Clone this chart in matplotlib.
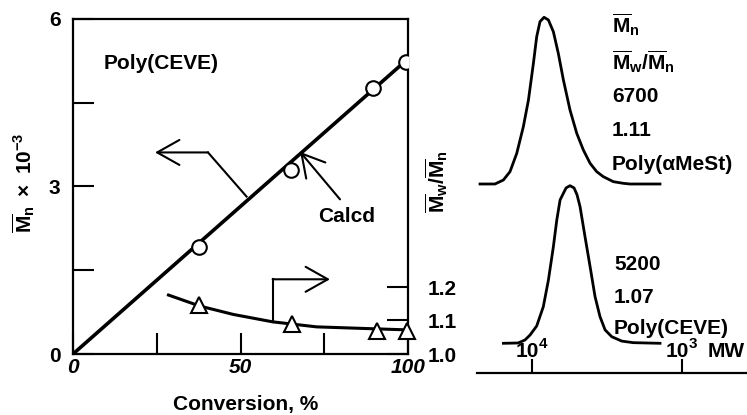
import numpy as np
import matplotlib
matplotlib.use("Agg")
import matplotlib.pyplot as plt
from matplotlib.transforms import blended_transform_factory

plt.rcParams['font.family'] = ['Liberation Sans', 'DejaVu Sans']
plt.rcParams['font.weight'] = 'bold'
plt.rcParams['mathtext.fontset'] = 'custom'
plt.rcParams['mathtext.rm'] = 'Liberation Sans:bold'
plt.rcParams['mathtext.it'] = 'Liberation Sans:bold'
plt.rcParams['mathtext.bf'] = 'Liberation Sans:bold'
plt.rcParams['mathtext.default'] = 'bf'

# ---------------- data ----------------
conv_mn = [37.6, 65.0, 89.5, 99.3]          # conversion, %
mn_obs = [1.92, 3.30, 4.77, 5.23]           # Mn x 10^-3
calcd_x = [0, 99.3]
calcd_y = [0, 5.25]

conv_pdi = [37.6, 65.4, 90.6, 99.7]
pdi_obs = [1.146, 1.090, 1.070, 1.068]
pdi_fit_x = [28.5, 37.9, 47.9, 59.6, 72.7, 90.6, 99.8]
pdi_fit_y = [1.176, 1.143, 1.118, 1.096, 1.081, 1.075, 1.072]

xticks_main = [0, 50, 100]
yticks_main = [0, 3, 6]
yticks_pdi = [1.0, 1.1, 1.2]

# GPC traces (log10 MW, normalised RI intensity)
ames_logmw = [4.345, 4.245, 4.189, 4.145, 4.100, 4.056, 4.022, 3.989, 3.967, 3.945,
              3.918, 3.889, 3.856, 3.823, 3.789, 3.745, 3.700, 3.656, 3.611, 3.567,
              3.523, 3.456, 3.389, 3.345, 3.145]
ames_int = [0.0, 0.0, 0.024, 0.074, 0.184, 0.344, 0.504, 0.724, 0.884, 0.974,
            1.0, 0.984, 0.914, 0.784, 0.624, 0.444, 0.304, 0.204, 0.124, 0.074,
            0.044, 0.014, 0.004, 0.0, 0.0]
ceve_logmw = [4.189, 4.091, 4.045, 4.011, 3.967, 3.923, 3.889, 3.856, 3.833, 3.811,
              3.789, 3.771, 3.745, 3.718, 3.698, 3.678, 3.645, 3.611, 3.578, 3.545,
              3.511, 3.467, 3.400, 3.323, 3.145]
ceve_int = [0.0, 0.002, 0.021, 0.053, 0.110, 0.232, 0.401, 0.612, 0.783, 0.910,
            0.952, 0.986, 1.0, 0.986, 0.942, 0.867, 0.677, 0.486, 0.296, 0.169,
            0.085, 0.042, 0.014, 0.004, 0.0]
mw_ticks = [4, 3]
mw_exps = ['4', '3']

ames_info = [r'$\overline{M}_n$',
             r'$\overline{M}_w/\overline{M}_n$',
             '6700', '1.11', 'Poly(αMeSt)']
ceve_info = ['5200', '1.07', 'Poly(CEVE)']

# ---------------- figure ----------------
W, H = 747, 415
fig = plt.figure(figsize=(W / 100, H / 100), dpi=100)

def fx(px):
    return px / W

def fy(py):
    return 1 - py / H

FS = 15
ax = fig.add_axes([fx(73), fy(354), fx(408) - fx(73), fy(19) - fy(354)])
for s in ax.spines.values():
    s.set_linewidth(1.6)
ax.set_xlim(0, 100)
ax.set_ylim(0, 6)
ax.set_xticks(xticks_main)
ax.set_xticks([25, 75], minor=True)
ax.set_yticks(yticks_main)
ax.set_yticks([1.5, 4.5], minor=True)
ax.tick_params(which='both', direction='in', length=15, width=1.5)
ax.tick_params(axis='y', pad=9, labelsize=FS)
ax.tick_params(axis='x', pad=3, labelsize=FS)
ax.set_yticklabels([str(v) for v in yticks_main], fontweight='bold')
ax.set_xticklabels([str(v) for v in xticks_main], fontweight='bold', fontstyle='italic')

ax.plot(calcd_x, calcd_y, color='black', lw=2.6, zorder=2)
ax.plot(conv_mn, mn_obs, 'o', ms=10.5, mfc='white', mec='black', mew=1.5, zorder=3)

ax2 = ax.twinx()
ax2.set_ylim(1.0, 2.0)
ax2.set_yticks(yticks_pdi)
ax2.tick_params(direction='in', length=15, width=1.5, pad=14, labelsize=FS)
ax2.set_yticklabels(['1.0', '1.1', '1.2'], fontweight='bold')
for s in ax2.spines.values():
    s.set_visible(False)
ax2.plot(pdi_fit_x, pdi_fit_y, color='black', lw=2.2, zorder=2)
ax2.plot(conv_pdi, pdi_obs, '^', ms=12, mfc='white', mec='black', mew=1.5,
         zorder=3, clip_on=False)

arrow_kw = dict(arrowstyle='->,head_length=0.8,head_width=0.45', lw=1.5,
                color='black', mutation_scale=20, shrinkA=0, shrinkB=0)
# left arrow (Mn axis)
ax.plot([51.8, 40.3], [2.82, 3.61], color='black', lw=1.5)
ax.annotate('', xy=(24.5, 3.61), xytext=(40.3, 3.61), arrowprops=arrow_kw)
# Calcd arrow
ax.annotate('', xy=(67.8, 3.62), xytext=(79.7, 2.77), arrowprops=arrow_kw)
ax.text(81.7, 2.46, 'Calcd', fontsize=FS, fontweight='bold', ha='center', va='center')
ax.text(9.0, 5.21, 'Poly(CEVE)', fontsize=FS, fontweight='bold', ha='left', va='center')
# right arrow (PDI axis)
ax2.plot([59.6, 59.6], [1.096, 1.223], color='black', lw=1.5)
ax2.annotate('', xy=(76.7, 1.223), xytext=(59.6, 1.223), arrowprops=arrow_kw)

fig.text(fx(24), fy(183), r'$\overline{M}_n\ \times\ \mathbf{10}^{\mathbf{-3}}$',
         rotation=90, fontsize=FS, fontweight='bold', ha='center', va='center')
fig.text(fx(437), fy(182),
         r'$\overline{M}_w/\overline{M}_n$',
         rotation=90, fontsize=FS, fontweight='bold', ha='center', va='center')
fig.text(fx(246), fy(404), 'Conversion, %', fontsize=FS, fontweight='bold',
         ha='center', va='center')

# ---------------- GPC panel ----------------
unit = 160.0
ax3 = fig.add_axes([fx(476.7), fy(372.7), fx(746.7) - fx(476.7), fy(0) - fy(372.7)])
ax3.set_xlim(4.367, 2.567)
ax3.set_ylim(0, 372.7 / unit)
for k in ['top', 'left', 'right']:
    ax3.spines[k].set_visible(False)
ax3.spines['bottom'].set_linewidth(1.6)
ax3.set_yticks([])
ax3.set_xticks(mw_ticks)
ax3.set_xticklabels([])
ax3.tick_params(axis='x', direction='in', length=10, width=1.5)
ax3.patch.set_alpha(0)

upper_off, upper_amp = 188.7 / unit, 166.7 / unit
lower_off, lower_amp = 29.4 / unit, 157.6 / unit
ax3.plot(ames_logmw, upper_off + upper_amp * np.array(ames_int), color='black',
         lw=2.0, solid_joinstyle='round')
ax3.plot(ceve_logmw, lower_off + lower_amp * np.array(ceve_int), color='black',
         lw=2.0, solid_joinstyle='round')

tr = blended_transform_factory(ax3.transData, fig.transFigure)
px_log = 1.8 / 270.0
for v, e in zip(mw_ticks, mw_exps):
    ax3.text(v + 4 * px_log, fy(357), '10', transform=tr, fontsize=FS, fontweight='bold',
             ha='center', va='baseline')
    ax3.text(v - 7 * px_log, fy(348), e, transform=tr, fontsize=11, fontweight='bold',
             ha='left', va='baseline')
fig.text(fx(745), fy(357), 'MW', fontsize=FS, fontweight='bold', ha='right',
         va='baseline')

for py, t in zip([25, 62, 97, 130, 164], ames_info):
    fig.text(fx(612), fy(py), t, fontsize=FS, fontweight='bold', ha='left', va='center')
for py, t in zip([265, 297, 328], ceve_info):
    fig.text(fx(614), fy(py), t, fontsize=FS, fontweight='bold', ha='left', va='center')

fig.savefig('out.png', dpi=100)
